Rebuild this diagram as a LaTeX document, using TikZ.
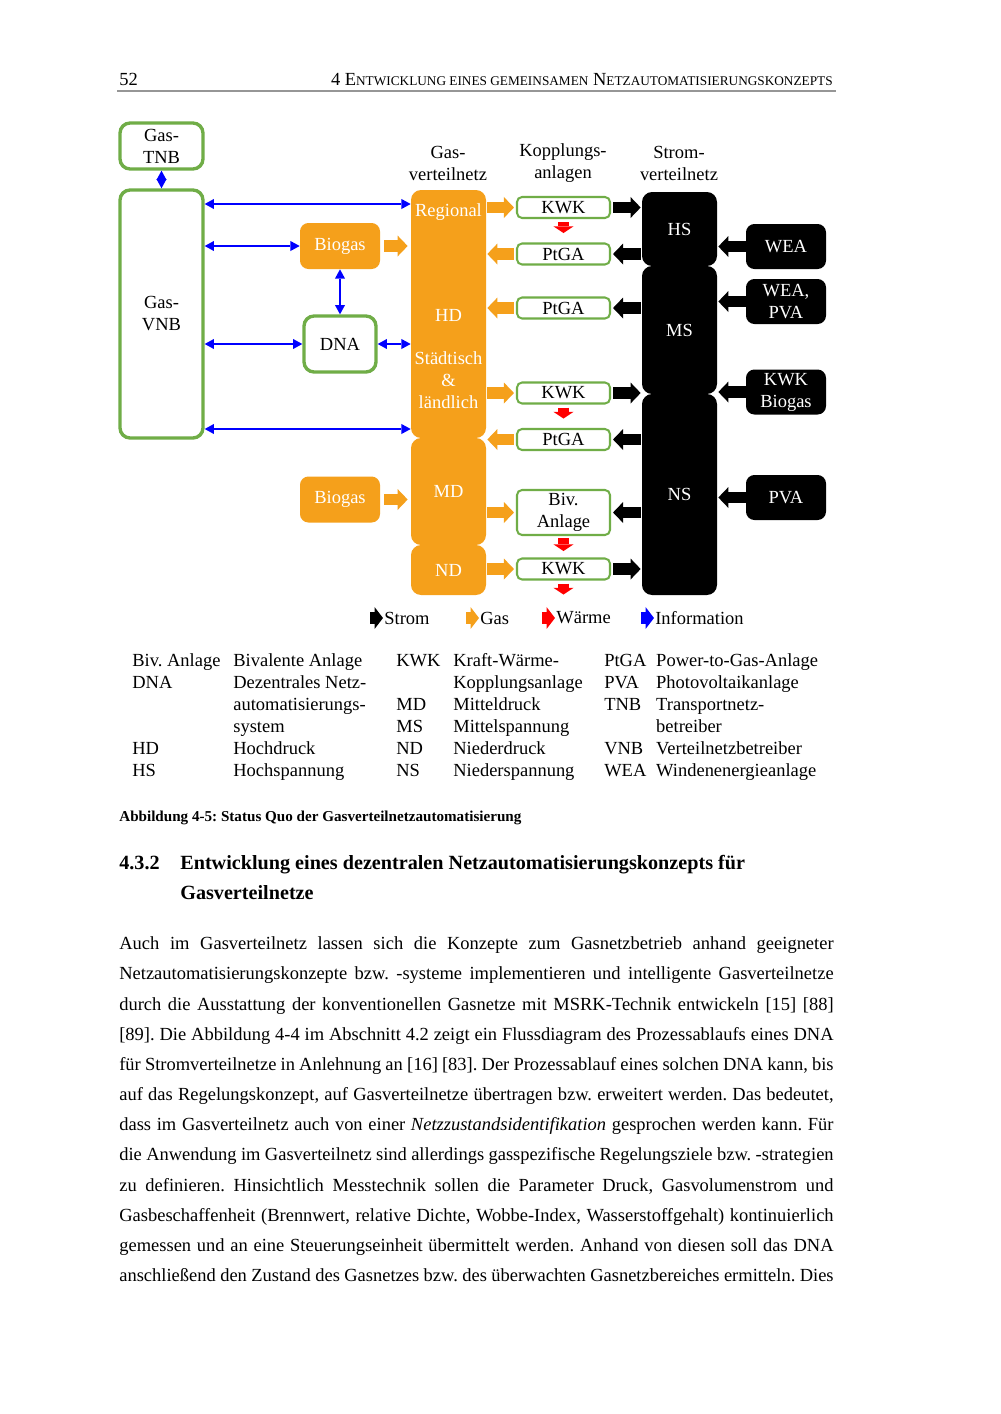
\documentclass[tikz,border=0pt]{standalone}
\usepackage{fontspec}
\setmainfont{Liberation Serif}
\usetikzlibrary{arrows.meta,calc}
\definecolor{gorange}{RGB}{245,160,27}
\definecolor{ggreen}{RGB}{112,173,71}
\definecolor{iblue}{RGB}{0,0,255}
\definecolor{wred}{RGB}{255,0,0}
\definecolor{rulegray}{RGB}{150,150,150}
\frenchspacing
\begin{document}
\begin{tikzpicture}[x=0.595pt,y=-0.595pt,
  sz/.style 2 args={minimum width=#1*0.595pt, minimum height=#2*0.595pt},
  dtext/.style={font=\fontsize{11}{13.1}\selectfont, inner sep=0pt, align=center},
  gbox/.style={dtext, draw=ggreen, line width=2pt, rounded corners=6pt, fill=white},
  cbox/.style={dtext, draw=ggreen, line width=1.2pt, rounded corners=3pt, fill=white},
  obox/.style={dtext, fill=gorange, rounded corners=5pt, text=white},
  ocol/.style={dtext, fill=gorange, rounded corners=6pt, text=white},
  bcol/.style={dtext, fill=black, rounded corners=6pt, text=white},
  bbox/.style={dtext, fill=black, rounded corners=5pt, text=white},
  wtext/.style={dtext, text=white},
  info/.style={draw=iblue, line width=1.6pt, {Triangle[length=5.5pt,width=6pt,line width=0pt]}-{Triangle[length=5.5pt,width=6pt,line width=0pt]}},
  fat/.style={line width=7pt, -{Triangle[length=6pt,width=12.5pt,line width=0pt]}},
  gas/.style={fat, draw=gorange},
  strom/.style={fat, draw=black},
  heat/.style={draw=wred, line width=7pt, -{Triangle[length=4pt,width=12pt,line width=0pt]}},
  icon/.style={line width=7pt, -{Triangle[length=5pt,width=13pt,line width=0pt]}},
  btext/.style={font=\fontsize{11}{13}\selectfont, inner sep=0pt, anchor=base west},
  htext/.style={font=\fontsize{12}{14}\selectfont\bfseries, inner sep=0pt, anchor=base west}
]
\useasboundingbox (0,0) rectangle (1000,1414);
\fill[white] (0,0) rectangle (1000,1414);

% ---------- page header ----------
\node[btext] (pnum) at (119,85) {52};
\node[btext, anchor=base east] (htitle) at (833,85) {4 E{\fontsize{7.9}{10}\selectfont NTWICKLUNG EINES GEMEINSAMEN} N{\fontsize{7.9}{10}\selectfont ETZAUTOMATISIERUNGSKONZEPTS}};
\coordinate (rl) at (117,91);
\coordinate (rr) at (836,91);
\draw[rulegray, line width=0.9pt] (rl) -- (rr);

% ---------- column titles ----------
\node[dtext] (lgas) at (448,163) {Gas-\\verteilnetz};
\node[dtext] (lkop) at (563,163) {Kopplungs-\\anlagen};
\node[dtext] (lstr) at (679,163) {Strom-\\verteilnetz};

% ---------- left part ----------
\node[gbox, sz={83}{46}] (tnb) at (161.5,146) {Gas-\\TNB};
\node[gbox, sz={83}{248}] (vnb) at (161.5,314) {Gas-\\VNB};
\node[obox, sz={80}{46}] (bio1) at (340,246) {Biogas};
\node[gbox, sz={72}{56}] (dna) at (340,344) {DNA};
\node[obox, sz={80}{46}] (bio2) at (340,499.5) {Biogas};

% ---------- gas distribution column ----------
\node[ocol, sz={75}{248}] (gtop) at (448.5,314) {};
\node[ocol, sz={75}{107}] (gmd) at (448.5,491.5) {MD};
\node[ocol, sz={75}{50}] (gnd) at (448.5,570) {ND};
\node[wtext] (treg) at (448.5,212) {Regional};
\node[wtext] (thd) at (448.5,315) {HD};
\node[wtext] (tst) at (448.5,380) {Städtisch\\\&\\ländlich};

% ---------- coupling plants ----------
\node[cbox, sz={93}{21}] (kwk1) at (563.5,207.5) {KWK};
\node[cbox, sz={93}{21}] (ptga1) at (563.5,254) {PtGA};
\node[cbox, sz={93}{21}] (ptga2) at (563.5,308) {PtGA};
\node[cbox, sz={93}{21}] (kwk2) at (563.5,393) {KWK};
\node[cbox, sz={93}{21}] (ptga3) at (563.5,439.5) {PtGA};
\node[cbox, sz={93}{45}] (biv) at (563.5,512.5) {Biv.\\Anlage};
\node[cbox, sz={93}{21}] (kwk3) at (563.5,569) {KWK};

% ---------- power distribution column ----------
\node[bcol, sz={75}{74}] (hs) at (679.5,229) {HS};
\node[bcol, sz={75}{128}] (ms) at (679.5,330) {MS};
\node[bcol, sz={75}{201}] (ns) at (679.5,494.5) {NS};

% ---------- generators ----------
\node[bbox, sz={80}{45}] (wea) at (786,246.5) {WEA};
\node[bbox, sz={80}{45}] (weapva) at (786,301.5) {WEA,\\PVA};
\node[bbox, sz={80}{45}] (kwkbio) at (786,392) {KWK\\Biogas};
\node[bbox, sz={80}{45}] (pva) at (786,497.5) {PVA};

% ---------- information arrows ----------
\draw[info] (tnb) -- (vnb);
\draw[info] (vnb.east |- 0,204) -- (gtop.west |- 0,204);
\draw[info] (vnb.east |- bio1) -- (bio1.west);
\draw[info] (bio1) -- (dna);
\draw[info] (vnb.east |- dna) -- (dna.west);
\draw[info] (dna.east) -- (gtop.west |- dna);
\draw[info] (vnb.east |- 0,429) -- (gtop.west |- 0,429);

% ---------- gas arrows ----------
\draw[gas, shorten <=2.4pt, shorten >=1.8pt] (bio1.east) -- (gtop.west |- bio1);
\draw[gas, shorten <=2.4pt, shorten >=1.8pt] (bio2.east) -- (gmd.west |- bio2);
\draw[gas, shorten <=0.6pt, shorten >=1.2pt] (gtop.east |- kwk1) -- (kwk1.west);
\draw[gas, shorten <=1.2pt, shorten >=0.6pt] (ptga1.west) -- (gtop.east |- ptga1);
\draw[gas, shorten <=1.2pt, shorten >=0.6pt] (ptga2.west) -- (gtop.east |- ptga2);
\draw[gas, shorten <=0.6pt, shorten >=1.2pt] (gtop.east |- kwk2) -- (kwk2.west);
\draw[gas, shorten <=1.2pt, shorten >=0.6pt] (ptga3.west) -- (gtop.east |- ptga3);
\draw[gas, shorten <=0.6pt, shorten >=1.2pt] (gmd.east |- biv) -- (biv.west);
\draw[gas, shorten <=0.6pt, shorten >=1.2pt] (gnd.east |- kwk3) -- (kwk3.west);

% ---------- power arrows ----------
\draw[strom, shorten <=1.2pt, shorten >=0.6pt] (kwk1.east) -- (hs.west |- kwk1);
\draw[strom, shorten <=0.6pt, shorten >=1.2pt] (hs.west |- ptga1) -- (ptga1.east);
\draw[strom, shorten <=0.6pt, shorten >=1.2pt] (ms.west |- ptga2) -- (ptga2.east);
\draw[strom, shorten <=1.2pt, shorten >=0.6pt] (kwk2.east) -- (ms.west |- kwk2);
\draw[strom, shorten <=0.6pt, shorten >=1.2pt] (ns.west |- ptga3) -- (ptga3.east);
\draw[strom, shorten <=0.6pt, shorten >=1.2pt] (ns.west |- biv) -- (biv.east);
\draw[strom, shorten <=1.2pt, shorten >=0.6pt] (kwk3.east) -- (ns.west |- kwk3);
\draw[strom, shorten >=0.6pt] (wea.west) -- (hs.east |- wea);
\draw[strom, shorten >=0.6pt] (weapva.west) -- (ms.east |- weapva);
\draw[strom, shorten >=0.6pt] (kwkbio.west) -- (ms.east |- kwkbio);
\draw[strom, shorten >=0.6pt] (pva.west) -- (ns.east |- pva);

% ---------- heat arrows ----------
\draw[heat, shorten <=1.8pt] (kwk1.south) -- ++(0,14);
\draw[heat, shorten <=1.8pt] (kwk2.south) -- ++(0,14);
\draw[heat, shorten <=1.2pt] (biv.south) -- ++(0,15);
\draw[heat, shorten <=1.8pt] (kwk3.south) -- ++(0,14);

% ---------- legend ----------
\node[dtext, anchor=west] (lgstrom) at (384,618) {Strom};
\node[dtext, anchor=west] (lggas) at (480,618) {Gas};
\node[dtext, anchor=west] (lgwaerme) at (556,618) {Wärme};
\node[dtext, anchor=west] (lginfo) at (655,618) {Information};
\draw[icon, draw=black, shorten >=0.6pt] ($(lgstrom.west)+(-14,0)$) -- (lgstrom.west);
\draw[icon, draw=gorange, shorten >=0.6pt] ($(lggas.west)+(-14,0)$) -- (lggas.west);
\draw[icon, draw=wred, shorten >=0.6pt] ($(lgwaerme.west)+(-14,0)$) -- (lgwaerme.west);
\draw[icon, draw=iblue, shorten >=0.6pt] ($(lginfo.west)+(-14,0)$) -- (lginfo.west);

% ---------- abbreviations ----------
\node[anchor=base west, inner sep=0pt, font=\fontsize{11}{13.1}\selectfont] (abbr) at (132,666) {%
\begin{tabular}[t]{@{}p{60.1pt}@{}p{97pt}@{}p{33.9pt}@{}p{89.8pt}@{}p{30.9pt}@{}l@{}}
Biv. Anlage & Bivalente Anlage & KWK & Kraft-Wärme- & PtGA & Power-to-Gas-Anlage\\
DNA & Dezentrales Netz- & & Kopplungsanlage & PVA & Photovoltaikanlage\\
 & automatisierungs- & MD & Mitteldruck & TNB & Transportnetz-\\
 & system & MS & Mittelspannung & & betreiber\\
HD & Hochdruck & ND & Niederdruck & VNB & Verteilnetzbetreiber\\
HS & Hochspannung & NS & Niederspannung & WEA & Windenenergieanlage
\end{tabular}};

% ---------- caption ----------
\node[anchor=base west, inner sep=0pt, font=\fontsize{9}{11}\selectfont\bfseries] (cap) at (119,821) {Abbildung 4-5: Status Quo der Gasverteilnetzautomatisierung};

% ---------- section heading ----------
\node[htext] (secnum) at (119,869) {4.3.2};
\node[htext] (sec1) at (180,869) {Entwicklung eines dezentralen Netzautomatisierungskonzepts für};
\node[htext] (sec2) at (180,899) {Gasverteilnetze};

% ---------- body text ----------
\node[anchor=north west, inner sep=0pt, text width=425pt, align=justify,
      font=\fontsize{11}{17.96}\selectfont] (body) at (119,936.5) {%
\parfillskip=0pt \hyphenpenalty=10000 \exhyphenpenalty=10000 \tolerance=10000 \pretolerance=-1 \hbadness=10000
Auch im Gasverteilnetz lassen sich die Konzepte zum Gasnetzbetrieb anhand geeigneter\linebreak{}
Netzautomatisierungskonzepte bzw. -systeme implementieren und intelligente Gasverteilnetze\linebreak{}
durch die Ausstattung der konventionellen Gasnetze mit MSRK-Technik entwickeln [15] [88]\linebreak{}
{[89]}. Die Abbildung 4-4 im Abschnitt 4.2 zeigt ein Flussdiagram des Prozessablaufs eines DNA\linebreak{}
für Stromverteilnetze in Anlehnung an [16] [83]. Der Prozessablauf eines solchen DNA kann, bis\linebreak{}
auf das Regelungskonzept, auf Gasverteilnetze übertragen bzw. erweitert werden. Das bedeutet,\linebreak{}
dass im Gasverteilnetz auch von einer \textit{Netzzustandsidentifikation} gesprochen werden kann. Für\linebreak{}
die Anwendung im Gasverteilnetz sind allerdings gasspezifische Regelungsziele bzw. -strategien\linebreak{}
zu definieren. Hinsichtlich Messtechnik sollen die Parameter Druck, Gasvolumenstrom und\linebreak{}
Gasbeschaffenheit (Brennwert, relative Dichte, Wobbe-Index, Wasserstoffgehalt) kontinuierlich\linebreak{}
gemessen und an eine Steuerungseinheit übermittelt werden. Anhand von diesen soll das DNA\linebreak{}
anschließend den Zustand des Gasnetzes bzw. des überwachten Gasnetzbereiches ermitteln. Dies};
\end{tikzpicture}
\end{document}
